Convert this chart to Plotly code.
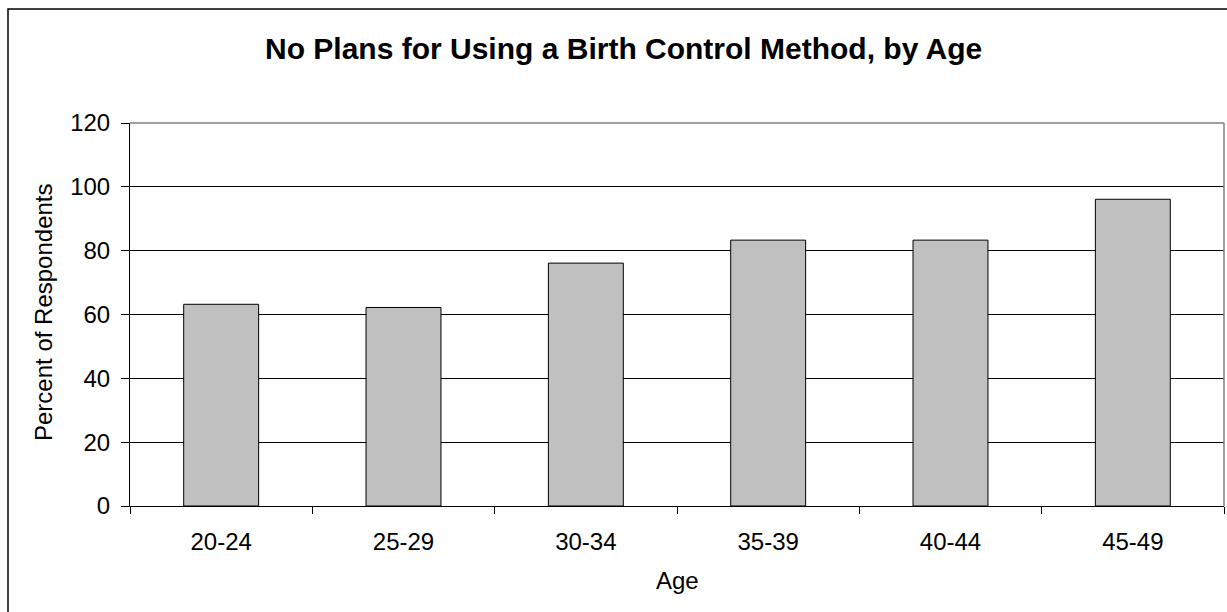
import plotly.graph_objects as go

categories = ["20-24", "25-29", "30-34", "35-39", "40-44", "45-49"]
values = [63.2, 62.2, 76.1, 83.3, 83.3, 96.1]
y_ticks = [0, 20, 40, 60, 80, 100, 120]

W, H = 1227, 612
L, R, T, B = 130, 1224, 123, 506
pw, ph = R - L, B - T

def px_x(x):
    return (x - L) / pw

def px_y(y):
    return (B - y) / ph

FONT = "Liberation Sans, Arial, sans-serif"

fig = go.Figure()
fig.add_trace(go.Bar(
    x=categories, y=values,
    marker=dict(color="#C0C0C0", line=dict(color="#000000", width=1)),
    hoverinfo="x+y",
))

fig.update_layout(
    width=W, height=H,
    margin=dict(l=L, r=W - R, t=T, b=H - B, pad=0),
    paper_bgcolor="white", plot_bgcolor="white",
    showlegend=False,
    bargap=0.589,
    font=dict(family=FONT, size=24, color="black"),
)

fig.update_xaxes(
    type="category",
    tickson="boundaries",
    ticks="outside", ticklen=7, tickcolor="black", tickwidth=1,
    showline=True, linecolor="black", linewidth=1,
    showgrid=False,
    tickfont=dict(family=FONT, size=24, color="black"),
    ticklabelstandoff=14,
)
fig.update_yaxes(
    range=[0, 120], tickvals=y_ticks,
    ticks="outside", ticklen=8, tickcolor="black", tickwidth=1,
    showline=True, linecolor="black", linewidth=1,
    showgrid=True, gridcolor="black", gridwidth=1,
    zeroline=False,
    tickfont=dict(family=FONT, size=24, color="black"),
    ticklabelstandoff=6,
)

# plot area frame (grey top/right)
fig.add_shape(type="line", xref="paper", yref="paper", x0=0, x1=1, y0=1, y1=1,
              line=dict(color="#808080", width=1.5), layer="above")
fig.add_shape(type="line", xref="paper", yref="paper", x0=1, x1=1, y0=0, y1=1,
              line=dict(color="#808080", width=1.5), layer="above")

# outer chart border (cropped on right/bottom)
fig.add_shape(type="rect", xref="paper", yref="paper",
              x0=px_x(8), x1=px_x(1245), y0=px_y(630), y1=px_y(9),
              line=dict(color="black", width=1.5), layer="above")

fig.add_annotation(
    text="<b>No Plans for Using a Birth Control Method, by Age</b>",
    xref="paper", yref="paper", x=px_x(623), y=px_y(48.5),
    xanchor="center", yanchor="middle", showarrow=False,
    font=dict(family=FONT, size=30, color="black"),
)
fig.add_annotation(
    text="Age", xref="paper", yref="paper", x=px_x(677), y=px_y(580),
    xanchor="center", yanchor="middle", showarrow=False,
    font=dict(family=FONT, size=24, color="black"),
)
fig.add_annotation(
    text="Percent of Respondents", xref="paper", yref="paper",
    x=px_x(43), y=px_y(312), textangle=-90,
    xanchor="center", yanchor="middle", showarrow=False,
    font=dict(family=FONT, size=24, color="black"),
)

fig.write_html("out.html", config={"displayModeBar": False},
               post_script="document.body.style.margin='0';")
